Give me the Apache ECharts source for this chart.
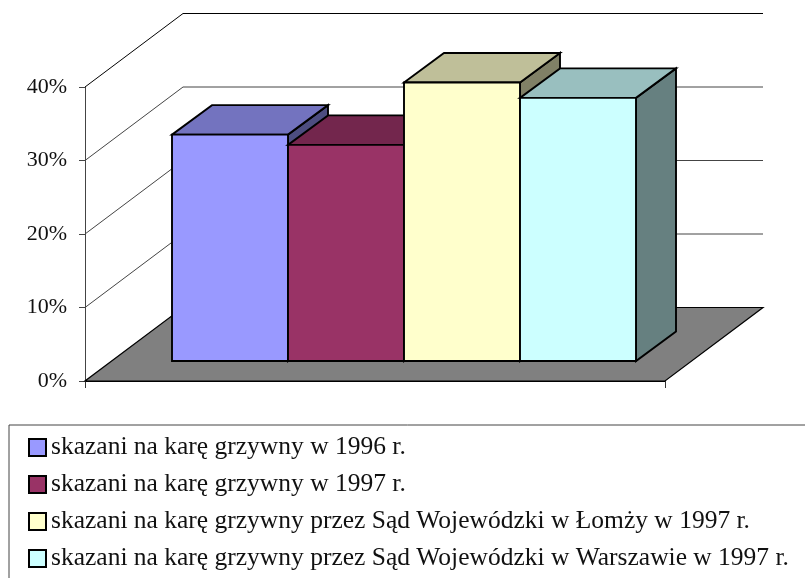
<!DOCTYPE html>
<html>
<head>
<meta charset="utf-8">
<style>html,body{margin:0;padding:0;background:#fff}#c{width:805px;height:578px}</style>
<script src="https://cdn.jsdelivr.net/npm/echarts@6/dist/echarts.min.js"></script>
</head>
<body>
<div id="c"></div>
<script>
const seriesNames = [
  'skazani na karę grzywny w 1996 r.',
  'skazani na karę grzywny w 1997 r.',
  'skazani na karę grzywny przez Sąd Wojewódzki w Łomży w 1997 r.',
  'skazani na karę grzywny przez Sąd Wojewódzki w Warszawie w 1997 r.'
];
const seriesValues = [30.8, 29.4, 37.9, 35.8];
const frontColors = ['#9999FF', '#993366', '#FFFFCC', '#CCFFFF'];
const topColors = ['#7373BF', '#73264D', '#BFBF99', '#99BFBF'];
const sideColors = ['#4D4D80', '#4D1A33', '#808066', '#668080'];
const yTicks = [10, 20, 30, 40];

const FONT = '"Liberation Serif", serif';
const WALL_DX = 98, WALL_DY = -73.5;
const BAR_LIFT = 20, BAR_DX = 40, BAR_DY = -29.5;
const FIRST_BAR = 0.75;
const BAR_STROKE = 1.9;

function poly(points, fill, lw, stroke) {
  return { type: 'polygon', shape: { points }, style: { fill, stroke: stroke || '#000', lineWidth: lw, lineJoin: 'miter' } };
}

const floorSeries = {
  type: 'custom', name: 'floor', silent: true, z: 1,
  data: [[0, 0]],
  renderItem(params, api) {
    const a = api.coord([0, 0]), b = api.coord([5, 0]);
    return poly([a, b, [b[0] + WALL_DX, b[1] + WALL_DY], [a[0] + WALL_DX, a[1] + WALL_DY]], '#808080', 1.2);
  }
};

const wallSeries = {
  type: 'custom', name: 'wall', silent: true, z: 1,
  data: yTicks.map(v => [0, v]),
  renderItem(params, api) {
    const v = api.value(1);
    const a = api.coord([0, v]), b = api.coord([5, v]);
    return {
      type: 'polyline',
      shape: { points: [a, [a[0] + WALL_DX, a[1] + WALL_DY], [b[0] + WALL_DX, b[1] + WALL_DY]] },
      style: { fill: 'none', stroke: v === 40 ? '#000' : '#444', lineWidth: 1 }
    };
  }
};

const barSeries = seriesNames.map((name, i) => ({
  type: 'custom', name, silent: true, z: 3 + i,
  itemStyle: { color: frontColors[i], borderColor: '#000', borderWidth: BAR_STROKE },
  data: [[FIRST_BAR + i, seriesValues[i]]],
  renderItem(params, api) {
    const x = api.value(0), v = api.value(1);
    const bl = api.coord([x, 0]), tr = api.coord([x + 1, v]);
    const l = bl[0], r = tr[0], b = bl[1] - BAR_LIFT, t = tr[1] - BAR_LIFT;
    return {
      type: 'group',
      children: [
        poly([[r, t], [r + BAR_DX, t + BAR_DY], [r + BAR_DX, b + BAR_DY], [r, b]], sideColors[i], BAR_STROKE),
        poly([[l, t], [r, t], [r + BAR_DX, t + BAR_DY], [l + BAR_DX, t + BAR_DY]], topColors[i], BAR_STROKE),
        poly([[l, t], [r, t], [r, b], [l, b]], frontColors[i], BAR_STROKE)
      ]
    };
  }
}));

const chart = echarts.init(document.getElementById('c'), null, { renderer: 'canvas' });
chart.setOption({
  animation: false,
  backgroundColor: '#fff',
  textStyle: { fontFamily: FONT },
  grid: { left: 85, top: 87, width: 580, height: 294, containLabel: false },
  xAxis: {
    type: 'value', min: 0, max: 5, interval: 5,
    axisLine: { show: true, lineStyle: { color: '#000', width: 1.2 } },
    axisTick: { show: true, length: 7, lineStyle: { color: '#333', width: 1 } },
    axisLabel: { show: false }, splitLine: { show: false }
  },
  yAxis: {
    type: 'value', min: 0, max: 40, interval: 10,
    axisLine: { show: true, lineStyle: { color: '#444', width: 1 } },
    axisTick: { show: true, length: 6, lineStyle: { color: '#444', width: 1 } },
    axisLabel: { formatter: '{value}%', fontFamily: FONT, fontSize: 22, color: '#111', margin: 18, padding: [2, 0, 0, 0] },
    splitLine: { show: false }
  },
  legend: {
    orient: 'vertical', left: 9, top: 425,
    height: 400,
    padding: [9.5, 400, 100, 19],
    backgroundColor: '#fff',
    borderColor: '#444', borderWidth: 1,
    itemWidth: 17, itemHeight: 17, itemGap: 11,
    selectedMode: false,
    icon: 'rect',
    data: seriesNames,
    textStyle: { fontFamily: FONT, fontSize: 25.5, color: '#111' }
  },
  series: [floorSeries, wallSeries, ...barSeries]
});
</script>
</body>
</html>
